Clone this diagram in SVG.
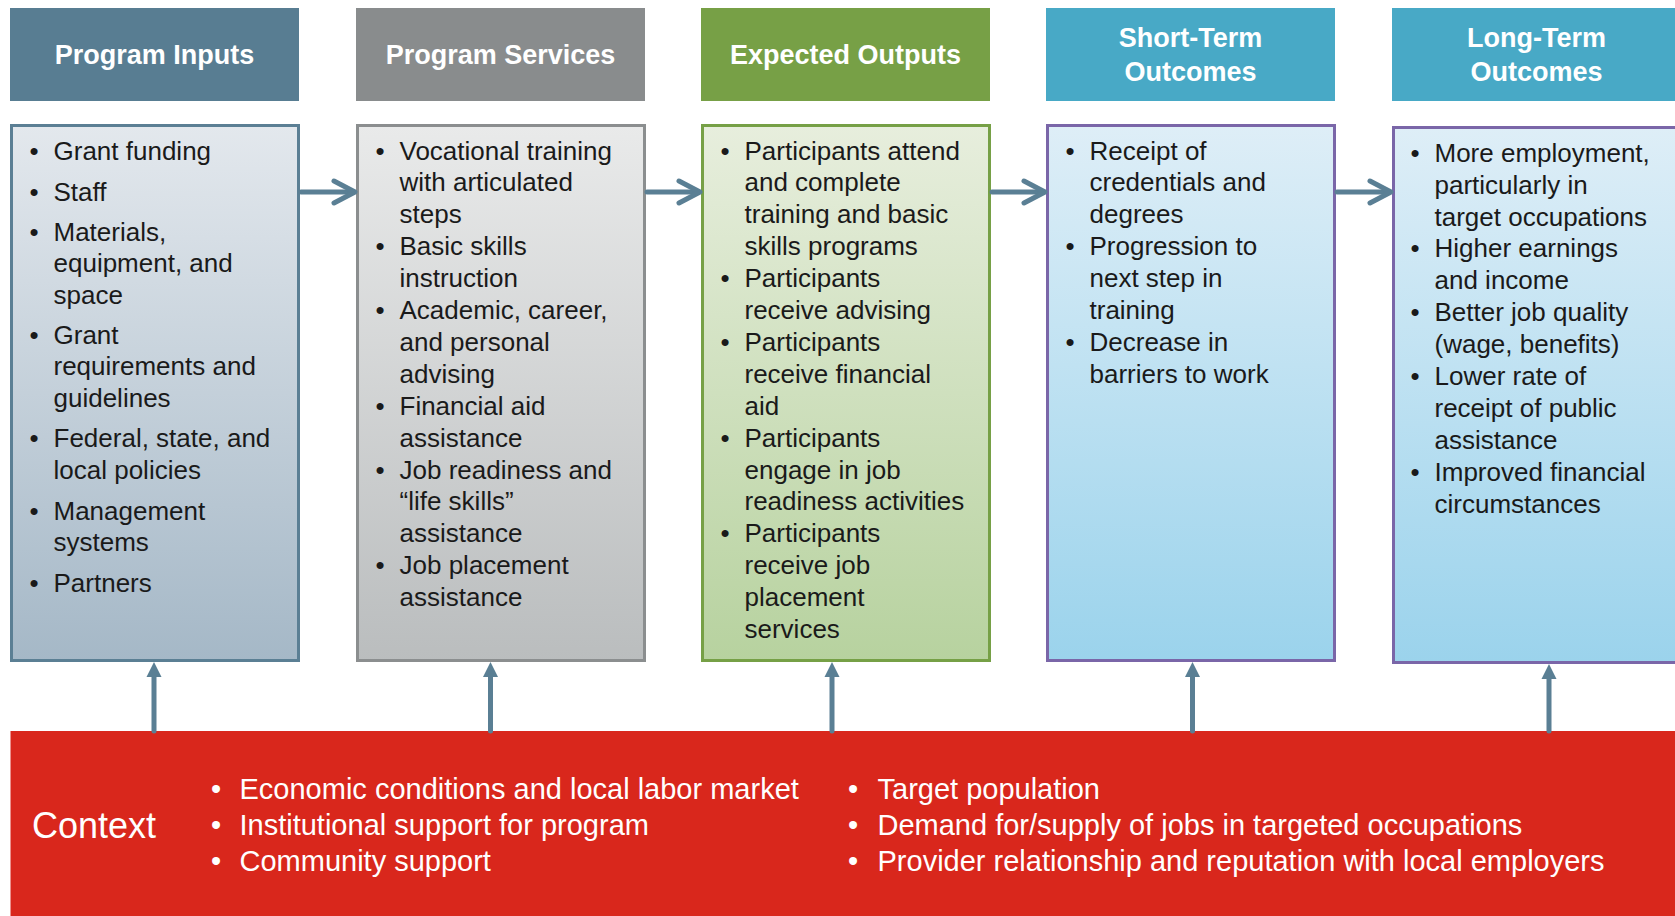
<svg xmlns="http://www.w3.org/2000/svg" width="1675" height="916" viewBox="0 0 1675 916">
  <defs>
    <linearGradient id="gIn" x1="0" y1="0" x2="0" y2="1">
      <stop offset="0" stop-color="#e3e8ed"/>
      <stop offset="1" stop-color="#a5b8c7"/>
    </linearGradient>
    <linearGradient id="gSv" x1="0" y1="0" x2="0" y2="1">
      <stop offset="0" stop-color="#e9eaea"/>
      <stop offset="1" stop-color="#babdbe"/>
    </linearGradient>
    <linearGradient id="gOut" x1="0" y1="0" x2="0" y2="1">
      <stop offset="0" stop-color="#e7eedd"/>
      <stop offset="1" stop-color="#b7d29f"/>
    </linearGradient>
    <linearGradient id="gOc" x1="0" y1="0" x2="0" y2="1">
      <stop offset="0" stop-color="#deeef7"/>
      <stop offset="1" stop-color="#9bd3ec"/>
    </linearGradient>
  </defs>
  <style>
    .hdr { font-family: "Liberation Sans", Arial, sans-serif; font-weight: bold; font-size: 27px; fill: #ffffff; text-anchor: middle; }
    .txt { font-family: "Liberation Sans", Arial, sans-serif; font-size: 26px; fill: #1a1a1a; }
    .bul { font-family: "Liberation Sans", Arial, sans-serif; font-size: 26px; fill: #1a1a1a; text-anchor: middle; }
    .ctx { font-family: "Liberation Sans", Arial, sans-serif; font-size: 29px; fill: #ffffff; }
    .ctxb { font-family: "Liberation Sans", Arial, sans-serif; font-size: 29px; fill: #ffffff; text-anchor: middle; }
    .ctitle { font-family: "Liberation Sans", Arial, sans-serif; font-size: 36px; fill: #ffffff; }
    .box { stroke-width: 3; }
    .conn { stroke: #5a7f94; stroke-width: 5; fill: none; stroke-linecap: round; stroke-linejoin: round; }
    .head { fill: #5a7f94; }
  </style>
  <rect x="0" y="0" width="1675" height="916" fill="#ffffff"/>

  <!-- Headers -->
  <g id="hdr-inputs">
    <rect x="10" y="8" width="289" height="93" fill="#587d92"/>
    <text class="hdr" x="154.5" y="63.5">Program Inputs</text>
  </g>
  <g id="hdr-services">
    <rect x="356" y="8" width="289" height="93" fill="#898c8d"/>
    <text class="hdr" x="500.5" y="63.5">Program Services</text>
  </g>
  <g id="hdr-outputs">
    <rect x="701" y="8" width="289" height="93" fill="#77a046"/>
    <text class="hdr" x="845.5" y="63.5">Expected Outputs</text>
  </g>
  <g id="hdr-short">
    <rect x="1046" y="8" width="289" height="93" fill="#48a9c6"/>
    <text class="hdr" x="1190.5" y="46.7">Short-Term</text>
    <text class="hdr" x="1190.5" y="81">Outcomes</text>
  </g>
  <g id="hdr-long">
    <rect x="1392" y="8" width="289" height="93" fill="#48a9c6"/>
    <text class="hdr" x="1536.5" y="46.7">Long-Term</text>
    <text class="hdr" x="1536.5" y="81">Outcomes</text>
  </g>

  <!-- Content boxes -->
  <g id="box-inputs">
    <rect class="box" x="11.5" y="125.5" width="287" height="535" fill="url(#gIn)" stroke="#5b7f94"/>
    <text class="bul" x="34" y="159.5">•</text><text class="txt" x="53.5" y="159.5">Grant funding</text>
    <text class="bul" x="34" y="201">•</text><text class="txt" x="53.5" y="201">Staff</text>
    <text class="bul" x="34" y="240.5">•</text><text class="txt" x="53.5" y="240.5">Materials,</text>
    <text class="txt" x="53.5" y="272">equipment, and</text>
    <text class="txt" x="53.5" y="303.5">space</text>
    <text class="bul" x="34" y="343.5">•</text><text class="txt" x="53.5" y="343.5">Grant</text>
    <text class="txt" x="53.5" y="375">requirements and</text>
    <text class="txt" x="53.5" y="407">guidelines</text>
    <text class="bul" x="34" y="447">•</text><text class="txt" x="53.5" y="447">Federal, state, and</text>
    <text class="txt" x="53.5" y="478.5">local policies</text>
    <text class="bul" x="34" y="520">•</text><text class="txt" x="53.5" y="520">Management</text>
    <text class="txt" x="53.5" y="551">systems</text>
    <text class="bul" x="34" y="592">•</text><text class="txt" x="53.5" y="592">Partners</text>
  </g>
  <g id="box-services">
    <rect class="box" x="357.5" y="125.5" width="287" height="535" fill="url(#gSv)" stroke="#8b8e8f"/>
    <text class="bul" x="380" y="159.5">•</text><text class="txt" x="399.5" y="159.5">Vocational training</text>
    <text class="txt" x="399.5" y="191.4">with articulated</text>
    <text class="txt" x="399.5" y="223.3">steps</text>
    <text class="bul" x="380" y="255.2">•</text><text class="txt" x="399.5" y="255.2">Basic skills</text>
    <text class="txt" x="399.5" y="287.1">instruction</text>
    <text class="bul" x="380" y="319">•</text><text class="txt" x="399.5" y="319">Academic, career,</text>
    <text class="txt" x="399.5" y="350.9">and personal</text>
    <text class="txt" x="399.5" y="382.8">advising</text>
    <text class="bul" x="380" y="414.7">•</text><text class="txt" x="399.5" y="414.7">Financial aid</text>
    <text class="txt" x="399.5" y="446.6">assistance</text>
    <text class="bul" x="380" y="478.5">•</text><text class="txt" x="399.5" y="478.5">Job readiness and</text>
    <text class="txt" x="399.5" y="510.4">“life skills”</text>
    <text class="txt" x="399.5" y="542.3">assistance</text>
    <text class="bul" x="380" y="574.2">•</text><text class="txt" x="399.5" y="574.2">Job placement</text>
    <text class="txt" x="399.5" y="606.1">assistance</text>
  </g>
  <g id="box-outputs">
    <rect class="box" x="702.5" y="125.5" width="287" height="535" fill="url(#gOut)" stroke="#76a046"/>
    <text class="bul" x="725" y="159.5">•</text><text class="txt" x="744.5" y="159.5">Participants attend</text>
    <text class="txt" x="744.5" y="191.4">and complete</text>
    <text class="txt" x="744.5" y="223.3">training and basic</text>
    <text class="txt" x="744.5" y="255.2">skills programs</text>
    <text class="bul" x="725" y="287.1">•</text><text class="txt" x="744.5" y="287.1">Participants</text>
    <text class="txt" x="744.5" y="319">receive advising</text>
    <text class="bul" x="725" y="350.9">•</text><text class="txt" x="744.5" y="350.9">Participants</text>
    <text class="txt" x="744.5" y="382.8">receive financial</text>
    <text class="txt" x="744.5" y="414.7">aid</text>
    <text class="bul" x="725" y="446.6">•</text><text class="txt" x="744.5" y="446.6">Participants</text>
    <text class="txt" x="744.5" y="478.5">engage in job</text>
    <text class="txt" x="744.5" y="510.4">readiness activities</text>
    <text class="bul" x="725" y="542.3">•</text><text class="txt" x="744.5" y="542.3">Participants</text>
    <text class="txt" x="744.5" y="574.2">receive job</text>
    <text class="txt" x="744.5" y="606.1">placement</text>
    <text class="txt" x="744.5" y="638">services</text>
  </g>
  <g id="box-short">
    <rect class="box" x="1047.5" y="125.5" width="287" height="535" fill="url(#gOc)" stroke="#7a66a8"/>
    <text class="bul" x="1070" y="159.5">•</text><text class="txt" x="1089.5" y="159.5">Receipt of</text>
    <text class="txt" x="1089.5" y="191.4">credentials and</text>
    <text class="txt" x="1089.5" y="223.3">degrees</text>
    <text class="bul" x="1070" y="255.2">•</text><text class="txt" x="1089.5" y="255.2">Progression to</text>
    <text class="txt" x="1089.5" y="287.1">next step in</text>
    <text class="txt" x="1089.5" y="319">training</text>
    <text class="bul" x="1070" y="350.9">•</text><text class="txt" x="1089.5" y="350.9">Decrease in</text>
    <text class="txt" x="1089.5" y="382.8">barriers to work</text>
  </g>
  <g id="box-long">
    <rect class="box" x="1393.5" y="127.5" width="287" height="535" fill="url(#gOc)" stroke="#7a66a8"/>
    <text class="bul" x="1415" y="161.7">•</text><text class="txt" x="1434.5" y="161.7">More employment,</text>
    <text class="txt" x="1434.5" y="193.6">particularly in</text>
    <text class="txt" x="1434.5" y="225.5">target occupations</text>
    <text class="bul" x="1415" y="257.4">•</text><text class="txt" x="1434.5" y="257.4">Higher earnings</text>
    <text class="txt" x="1434.5" y="289.3">and income</text>
    <text class="bul" x="1415" y="321.2">•</text><text class="txt" x="1434.5" y="321.2">Better job quality</text>
    <text class="txt" x="1434.5" y="353.1">(wage, benefits)</text>
    <text class="bul" x="1415" y="385">•</text><text class="txt" x="1434.5" y="385">Lower rate of</text>
    <text class="txt" x="1434.5" y="416.9">receipt of public</text>
    <text class="txt" x="1434.5" y="448.8">assistance</text>
    <text class="bul" x="1415" y="480.7">•</text><text class="txt" x="1434.5" y="480.7">Improved financial</text>
    <text class="txt" x="1434.5" y="512.6">circumstances</text>
  </g>

  <!-- Context -->
  <g id="context">
    <rect x="10.5" y="731" width="1670" height="190" fill="#d9271c"/>
    <text class="ctitle" x="32" y="838">Context</text>
    <text class="ctxb" x="216" y="799.3">•</text><text class="ctx" x="239.5" y="799.3">Economic conditions and local labor market</text>
    <text class="ctxb" x="216" y="835">•</text><text class="ctx" x="239.5" y="835">Institutional support for program</text>
    <text class="ctxb" x="216" y="870.5">•</text><text class="ctx" x="239.5" y="870.5">Community support</text>
    <text class="ctxb" x="853" y="799.3">•</text><text class="ctx" x="877.5" y="799.3">Target population</text>
    <text class="ctxb" x="853" y="835">•</text><text class="ctx" x="877.5" y="835">Demand for/supply of jobs in targeted occupations</text>
    <text class="ctxb" x="853" y="870.5">•</text><text class="ctx" x="877.5" y="870.5">Provider relationship and reputation with local employers</text>
  </g>

  <!-- Connectors -->
  <g id="connectors">
    <line class="conn" x1="301" y1="192" x2="353" y2="192"/>
    <polyline class="conn" points="334,181 355,192 334,203"/>
    <line class="conn" x1="647" y1="192" x2="698" y2="192"/>
    <polyline class="conn" points="679,181 700,192 679,203"/>
    <line class="conn" x1="992" y1="192" x2="1043" y2="192"/>
    <polyline class="conn" points="1024,181 1045,192 1024,203"/>
    <line class="conn" x1="1337" y1="192" x2="1389" y2="192"/>
    <polyline class="conn" points="1370,181 1391,192 1370,203"/>

    <line class="conn" x1="154" y1="731" x2="154" y2="672" stroke-linecap="butt"/>
    <polygon class="head" points="154,662 161.5,677 146.5,677"/>
    <line class="conn" x1="490.5" y1="731" x2="490.5" y2="672" stroke-linecap="butt"/>
    <polygon class="head" points="490.5,662 498,677 483,677"/>
    <line class="conn" x1="832" y1="731" x2="832" y2="672" stroke-linecap="butt"/>
    <polygon class="head" points="832,662 839.5,677 824.5,677"/>
    <line class="conn" x1="1192.5" y1="731" x2="1192.5" y2="672" stroke-linecap="butt"/>
    <polygon class="head" points="1192.5,662 1200,677 1185,677"/>
    <line class="conn" x1="1549" y1="731" x2="1549" y2="674" stroke-linecap="butt"/>
    <polygon class="head" points="1549,664 1556.5,679 1541.5,679"/>
  </g>
</svg>
